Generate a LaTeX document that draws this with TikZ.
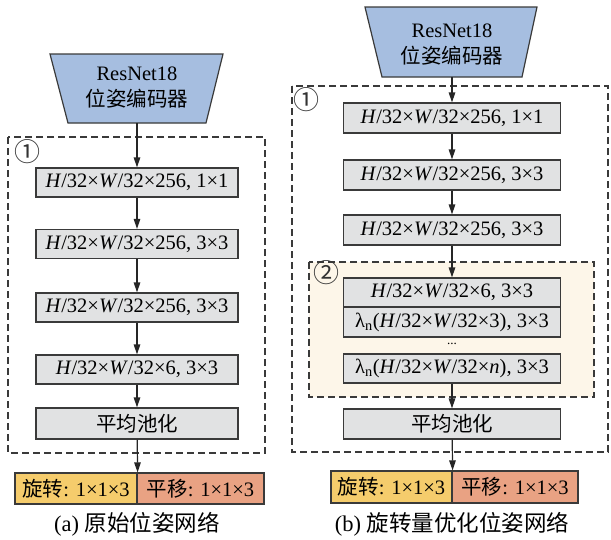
\documentclass[tikz,border=0pt]{standalone}
\usepackage{fontspec}
\setmainfont{Liberation Serif}
\newfontfamily\cjk{Noto Sans CJK SC}
\newfontfamily\symf{DejaVu Serif}
\usetikzlibrary{arrows.meta}
\definecolor{encblue}{HTML}{A6BEE0}
\definecolor{boxgray}{HTML}{E1E2E3}
\definecolor{linegray}{HTML}{3A3A3A}
\definecolor{rotyellow}{HTML}{F5CC6C}
\definecolor{transsalmon}{HTML}{E9A283}
\definecolor{cream}{HTML}{FDF6E9}
\begin{document}
\begin{tikzpicture}[x=1pt,y=-1pt,
  txt/.style={font=\fontsize{20.5}{26}\selectfont},
  layer/.style={txt, draw=linegray, line width=1.2pt, fill=boxgray, inner sep=0pt, minimum height=29pt},
  lay/.style={layer, minimum width=202pt},
  layb/.style={layer, minimum width=217pt},
  outbox/.style={txt, draw=linegray, line width=1.2pt, inner sep=0pt, minimum height=31pt},
  enc/.style={draw=linegray, line width=1.2pt, fill=encblue},
  grp/.style={draw=linegray, line width=1.1pt, dash pattern=on 7pt off 4pt},
  arr/.style={draw=black!85, line width=1.2pt, -{Triangle[length=10pt,width=6.5pt]}},
  circ/.style={font=\cjk\fontsize{26}{30}\selectfont, inner sep=0pt, text=black!80},
  captext/.style={font=\fontsize{22.5}{28}\selectfont, inner sep=0pt}
]
\useasboundingbox (0,0) rectangle (611,539);

% ---------------- (a) ----------------
\draw[grp] (8,137) rectangle (265,453);
\node[circ] (c1a) at (27,152) {①};
\draw[enc] (50,54) -- (223,54) -- (206,123) -- (68,123) -- cycle;
\node[txt, align=center, inner sep=0pt] (encA) at (137,88) {ResNet18\\{\cjk 位姿编码器}};
\coordinate (encAb) at (137,123);
\node[lay] (a1) at (137,182.5) {\textit{H}/32×\textit{W}/32×256, 1×1};
\node[lay] (a2) at (137,244) {\textit{H}/32×\textit{W}/32×256, 3×3};
\node[lay] (a3) at (137,307.5) {\textit{H}/32×\textit{W}/32×256, 3×3};
\node[lay] (a4) at (137,369.5) {\textit{H}/32×\textit{W}/32×6, 3×3};
\node[lay, minimum height=31pt] (apool) at (137,423.5) {\cjk 平均池化};
\node[outbox, fill=rotyellow, minimum width=122pt] (rotA) at (76,488.5) {{\cjk 旋转}: 1×1×3};
\node[outbox, fill=transsalmon, minimum width=127pt] (trA) at (200.5,488.5) {{\cjk 平移}: 1×1×3};
\node[captext] (capA) at (137,524) {(a) {\cjk 原始位姿网络}};
\draw[arr] (encAb) -- (a1);
\draw[arr] (a1) -- (a2);
\draw[arr] (a2) -- (a3);
\draw[arr] (a3) -- (a4);
\draw[arr] (a4) -- (apool);
\draw[arr] (apool) -- (rotA.north east);

% ---------------- (b) ----------------
\draw[grp] (292,86) rectangle (608,452);
\node[circ] (c1b) at (306,100) {①};
\draw[enc] (365,7) -- (537,7) -- (522,77) -- (382,77) -- cycle;
\node[txt, align=center, inner sep=0pt] (encB) at (452,44.5) {ResNet18\\{\cjk 位姿编码器}};
\coordinate (encBb) at (452,77);
\node[layb, minimum height=30pt] (b1) at (452,118) {\textit{H}/32×\textit{W}/32×256, 1×1};
\node[layb, minimum height=30pt] (b2) at (452,175) {\textit{H}/32×\textit{W}/32×256, 3×3};
\node[layb, minimum height=30pt] (b3) at (452,230) {\textit{H}/32×\textit{W}/32×256, 3×3};
\draw[grp, fill=cream] (309,262) rectangle (594,397);
\node[circ] (c2b) at (326,273) {②};
\node[layb] (b4) at (452,292.5) {\textit{H}/32×\textit{W}/32×6, 3×3};
\node[layb, minimum height=30pt] (b5) at (452,322) {λ\textsubscript{n}(\textit{H}/32×\textit{W}/32×3), 3×3};
\node[txt, inner sep=0pt, font=\fontsize{13}{16}\selectfont] (dots) at (452,344) {...};
\node[layb] (b6) at (452,368.5) {λ\textsubscript{n}(\textit{H}/32×\textit{W}/32×\textit{n}), 3×3};
\node[layb, minimum height=30pt] (bpool) at (452,424) {\cjk 平均池化};
\node[outbox, fill=rotyellow, minimum width=121pt, minimum height=32pt] (rotB) at (391.5,487) {{\cjk 旋转}: 1×1×3};
\node[outbox, fill=transsalmon, minimum width=126pt, minimum height=32pt] (trB) at (515,487) {{\cjk 平移}: 1×1×3};
\node[captext] (capB) at (452,524) {(b) {\cjk 旋转量优化位姿网络}};
\draw[arr] (encBb) -- (b1);
\draw[arr] (b1) -- (b2);
\draw[arr] (b2) -- (b3);
\draw[arr] (b3) -- (b4);
\draw[arr] (b6) -- (bpool);
\draw[arr] (bpool) -- (rotB.north east);
\end{tikzpicture}
\end{document}
